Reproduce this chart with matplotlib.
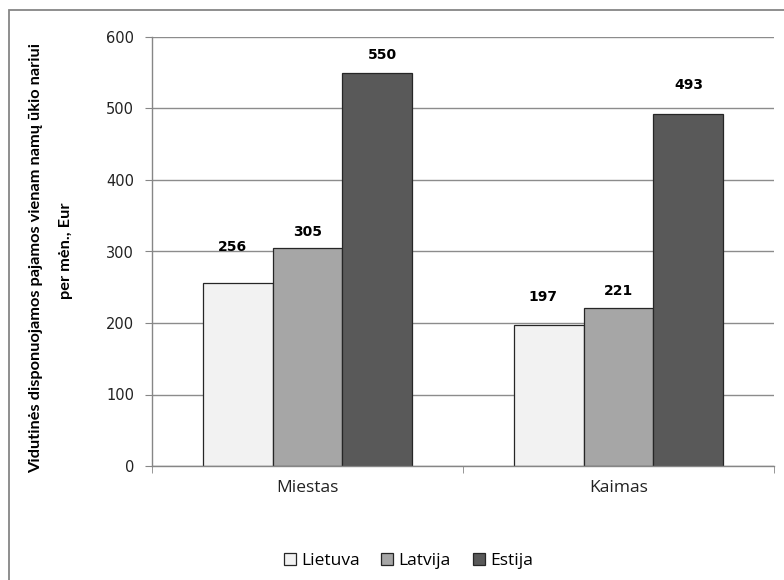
import numpy
import matplotlib
matplotlib.use("Agg")
import matplotlib.pyplot as plt
from matplotlib.patches import Rectangle
from matplotlib.lines import Line2D

# data
categories = ["Miestas", "Kaimas"]
countries = ["Lietuva", "Latvija", "Estija"]
lietuva = [256, 197]
latvija = [305, 221]
estija = [550, 493]
yticks = [0, 100, 200, 300, 400, 500, 600]

series = [lietuva, latvija, estija]
colors = ["#f2f2f2", "#a6a6a6", "#595959"]

# label offsets (px) as placed in the original chart
lab_dx = [[-5, -6], [0, 0], [5, 0]]
lab_dy = [[36, 28], [16, 17], [18, 29]]

W, H = 784, 580
fig = plt.figure(figsize=(W / 100, H / 100), dpi=100)

# outer chart frame
fig.patches.append(Rectangle((9 / W, -0.1), 1.2, 1.1 - 10 / H,
                             transform=fig.transFigure, fill=False,
                             edgecolor="#868686", lw=1.3))

ax = fig.add_axes([152 / W, 1 - 466 / H, (774 - 152) / W, (466 - 37) / H])

x = numpy.arange(len(categories))
bw = 0.225
for k, (vals, col) in enumerate(zip(series, colors)):
    pos = x + (k - 1) * bw
    ax.bar(pos, vals, bw, color=col, edgecolor="#262626", lw=0.9,
           label=countries[k], zorder=3)
    for j, v in enumerate(vals):
        ax.annotate(str(v), (pos[j], v),
                    xytext=(lab_dx[k][j] * 0.72, lab_dy[k][j] * 0.72),
                    textcoords="offset points", ha="center", va="center",
                    fontsize=10, fontweight="bold", family="DejaVu Sans",
                    color="black")

ax.set_xlim(-0.5, 1.5)
ax.set_ylim(0, 600)
ax.set_yticks(yticks)
ax.set_yticklabels([str(t) for t in yticks], family="DejaVu Sans",
                   fontsize=10.5, color="#222222")
ax.set_xticks(x)
ax.set_xticklabels(categories, family="Open Sans", fontsize=12.5,
                   color="#222222")
ax.set_xticks([-0.5, 0.5, 1.5], minor=True)
ax.tick_params(axis="x", which="major", length=0, pad=10)
ax.tick_params(axis="x", which="minor", length=5, color="#868686",
               direction="out")
ax.tick_params(axis="y", length=5, color="#868686", direction="out", pad=8)

ax.yaxis.grid(True, color="#8c8c8c", lw=1)
ax.set_axisbelow(True)
for s in ["top", "right"]:
    ax.spines[s].set_visible(False)
for s in ["left", "bottom"]:
    ax.spines[s].set_color("#868686")
    ax.spines[s].set_linewidth(1)
    ax.spines[s].set_zorder(4)

# y axis title, two lines
fig.text(36 / W, 1 - 258 / H,
         "Vidutinės disponuojamos pajamos vienam namų ūkio nariui",
         rotation=90, ha="center", va="center", family="Lato",
         fontweight="bold", fontsize=11.8)
fig.text(66 / W, 1 - 251 / H, "per mėn., Eur",
         rotation=90, ha="center", va="center", family="Lato",
         fontweight="bold", fontsize=11.8)

# legend
hs = [Line2D([], [], marker="s", ls="", markersize=8,
             markerfacecolor=c, markeredgecolor="#262626", markeredgewidth=0.9)
      for c in colors]
fig.legend(hs, countries, loc="center", bbox_to_anchor=(406 / W, 1 - 561 / H),
           ncol=3, frameon=False, handletextpad=0.05, columnspacing=1.0,
           handlelength=1.2, prop={"family": "Open Sans", "size": 12.5})

fig.savefig("out.png", dpi=100)
